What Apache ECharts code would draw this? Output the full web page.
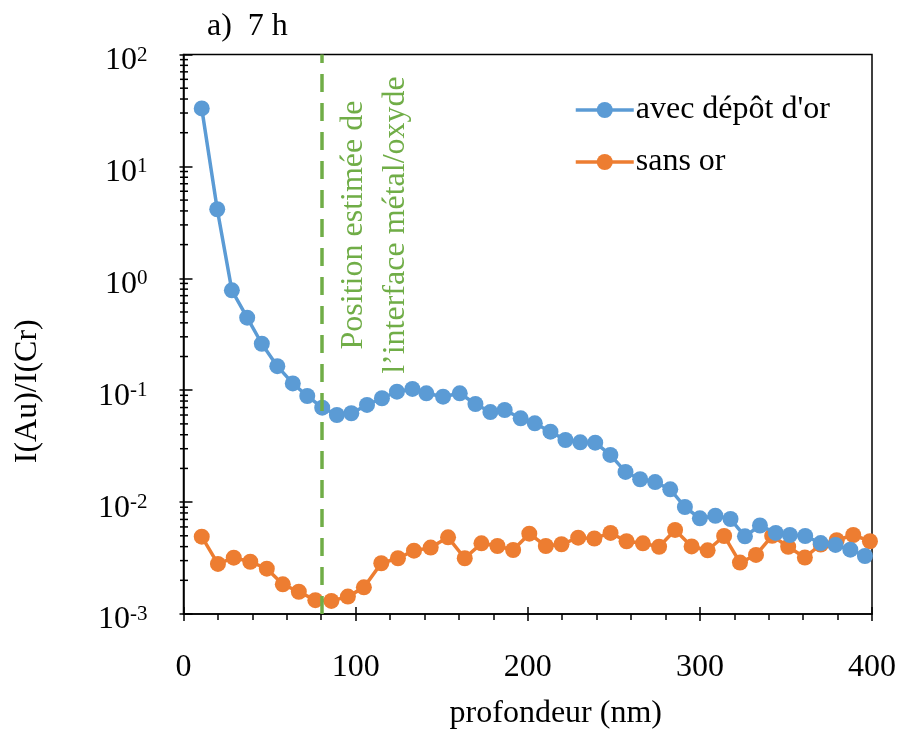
<!DOCTYPE html>
<html>
<head>
<meta charset="utf-8">
<script src="https://cdn.jsdelivr.net/npm/echarts@6/dist/echarts.min.js"></script>
<style>
html,body{margin:0;padding:0;background:#fff;}
#c{width:898px;height:729px;}
</style>
</head>
<body>
<div id="c"></div>
<script>
// ---- data ----
const blueName = "avec dépôt d'or";
const orangeName = "sans or";
const blueX = [10.6,19.6,28.1,37.0,45.5,54.5,63.5,71.9,80.6,89.1,97.5,106.6,115.3,124.0,133.0,141.1,150.8,160.5,169.6,178.3,186.6,195.9,204.1,213.2,221.9,230.5,239.2,248.0,256.8,265.3,274.0,282.8,291.3,300.0,309.0,317.8,326.2,334.9,344.1,352.3,361.2,370.2,378.8,387.4,395.9];
const blueY = [33.0,4.14,0.78,0.445,0.26,0.164,0.115,0.0888,0.0698,0.060,0.0622,0.0738,0.0847,0.097,0.1026,0.0938,0.0875,0.0938,0.0753,0.0638,0.0665,0.0561,0.0506,0.0426,0.0359,0.0342,0.0340,0.0264,0.0186,0.0160,0.0151,0.0130,0.00904,0.00716,0.00755,0.00706,0.00494,0.00618,0.0053,0.00508,0.00498,0.0043,0.00414,0.00376,0.0033];
const orangeX = [10.6,20.0,29.2,38.8,48.4,57.7,67.0,76.6,85.9,95.5,104.8,114.9,124.6,133.9,143.6,153.7,163.4,173.1,182.4,191.5,200.9,210.5,219.6,229.3,238.7,248.1,257.4,266.9,276.3,285.6,295.2,304.5,314.1,323.3,332.6,342.0,351.3,361.0,370.2,379.5,389.1,398.8];
const orangeY = [0.00491,0.0028,0.00319,0.00293,0.00254,0.00184,0.00158,0.00133,0.00131,0.00143,0.00173,0.00284,0.00315,0.00368,0.00392,0.00484,0.00315,0.00428,0.00405,0.00373,0.00522,0.00405,0.0042,0.00481,0.00473,0.0053,0.00447,0.00428,0.00399,0.00564,0.00402,0.00371,0.00498,0.00288,0.00337,0.005,0.00399,0.0032,0.00418,0.00456,0.00508,0.00447];
const interfaceX = 80.5;
const yMinorTicks = [];
[0.001, 0.01, 0.1, 1, 10].forEach(function (d) { for (let k = 2; k <= 9; k++) yMinorTicks.push(+(d * k).toPrecision(3)); });
const titleText = 'a)  7 h';
const xName = 'profondeur (nm)';
const yName = 'I(Au)/I(Cr)';
const annotText = 'Position estimée de\nl\u2019interface métal/oxyde';

// ---- chart ----
const FONT = "'Liberation Serif','Times New Roman',serif";
const FS = 32;
const BLUE = '#5B9BD5', ORANGE = '#ED7D31', GREEN = '#70AD47';
const chart = echarts.init(document.getElementById('c'));

function pairs(xs, ys) { return xs.map(function (x, i) { return [x, ys[i]]; }); }

const option = {
  backgroundColor: '#fff',
  animation: false,
  textStyle: { fontFamily: FONT },
  title: {
    text: titleText, left: 202, top: 6,
    textStyle: { fontFamily: FONT, fontSize: FS, fontWeight: 'normal', color: '#000' }
  },
  grid: {
    left: 183.5, right: 26, top: 54.5, bottom: 115,
    outerBoundsMode: 'none', containLabel: false,
    show: true, borderColor: '#000', borderWidth: 1.5, backgroundColor: 'transparent'
  },
  legend: {
    data: [blueName, orangeName],
    orient: 'vertical', left: 574, top: 94, padding: 0,
    itemWidth: 58, itemHeight: 20, itemGap: 20,
    lineStyle: { width: 3.5 },
    textStyle: { fontFamily: FONT, fontSize: FS, color: '#000', padding: [0, 0, 0, -3] }
  },
  xAxis: [{
    type: 'value', min: 0, max: 400, interval: 100, position: 'bottom',
    name: xName, nameLocation: 'middle', nameGap: 84,
    nameTextStyle: { fontFamily: FONT, fontSize: FS, color: '#000', padding: [0, 0, 0, 56] },
    axisLine: { show: true, lineStyle: { color: '#000', width: 1.5 } },
    axisTick: { show: true, inside: false, length: 7, lineStyle: { color: '#000', width: 1.5 } },
    minorTick: { show: true, splitNumber: 5, length: 6, lineStyle: { color: '#000', width: 1.5 } },
    axisLabel: { margin: 38, fontFamily: FONT, fontSize: FS, color: '#000' },
    splitLine: { show: false }
  }, {
    type: 'value', min: 0, max: 400, interval: 100, position: 'bottom', gridIndex: 0,
    axisLine: { show: false },
    axisTick: { show: true, inside: true, length: 7, lineStyle: { color: '#000', width: 1.5 } },
    axisLabel: { show: false }, splitLine: { show: false }
  }],
  yAxis: [{
    type: 'log', logBase: 10, min: 0.001, max: 100, position: 'left',
    name: yName, nameLocation: 'middle', nameGap: 140, nameRotate: 90,
    nameTextStyle: { fontFamily: FONT, fontSize: FS, color: '#000', padding: [0, 114, 0, 0] },
    axisLine: { show: true, lineStyle: { color: '#000', width: 1.5 } },
    axisTick: { show: true, inside: true, length: 9, lineStyle: { color: '#000', width: 1.5 } },
    axisLabel: {
      margin: 36, padding: [12, 0, 0, 0],
      formatter: function (v) {
        const e = Math.round(Math.log10(v));
        return '{b|10}{s|' + e + '}';
      },
      rich: {
        b: { fontFamily: FONT, fontSize: FS, color: '#000', verticalAlign: 'bottom' },
        s: { fontFamily: FONT, fontSize: 21, color: '#000', verticalAlign: 'top' }
      }
    },
    splitLine: { show: false }
  }, {
    type: 'log', logBase: 10, min: 0.001, max: 100, position: 'left', gridIndex: 0,
    axisLine: { show: false },
    axisTick: { show: true, inside: false, length: 4, lineStyle: { color: '#000', width: 1.5 } },
    axisLabel: { show: false }, splitLine: { show: false }
  }],
  series: [
    {
      name: blueName, type: 'line', data: pairs(blueX, blueY),
      symbol: 'circle', symbolSize: 16,
      itemStyle: { color: BLUE }, lineStyle: { color: BLUE, width: 3.5 },
      z: 4,
      markLine: {
        silent: true, symbol: 'none', animation: false,
        label: { show: false },
        lineStyle: { color: GREEN, width: 3.5, type: [18, 11] },
        data: [{ xAxis: interfaceX }]
      }
    },
    {
      name: orangeName, type: 'line', data: pairs(orangeX, orangeY),
      symbol: 'circle', symbolSize: 16,
      itemStyle: { color: ORANGE }, lineStyle: { color: ORANGE, width: 3.5 },
      z: 3
    },
    {
      type: 'custom', name: 'minorY', clip: false, silent: true, z: 10,
      data: yMinorTicks.map(function (v) { return [0, v]; }),
      renderItem: function (params, api) {
        const p = api.coord([api.value(0), api.value(1)]);
        return { type: 'line', shape: { x1: p[0] - 3.5, y1: p[1], x2: p[0] + 4.5, y2: p[1] },
                 style: { stroke: '#000', lineWidth: 1.5 } };
      }
    }
  ],
  graphic: [{
    type: 'text', x: 375, y: 225, rotation: Math.PI / 2, silent: true,
    style: {
      text: annotText, fill: GREEN, font: FS + 'px ' + FONT,
      align: 'center', verticalAlign: 'middle', lineHeight: 42
    }
  }]
};
chart.setOption(option);
</script>
</body>
</html>
